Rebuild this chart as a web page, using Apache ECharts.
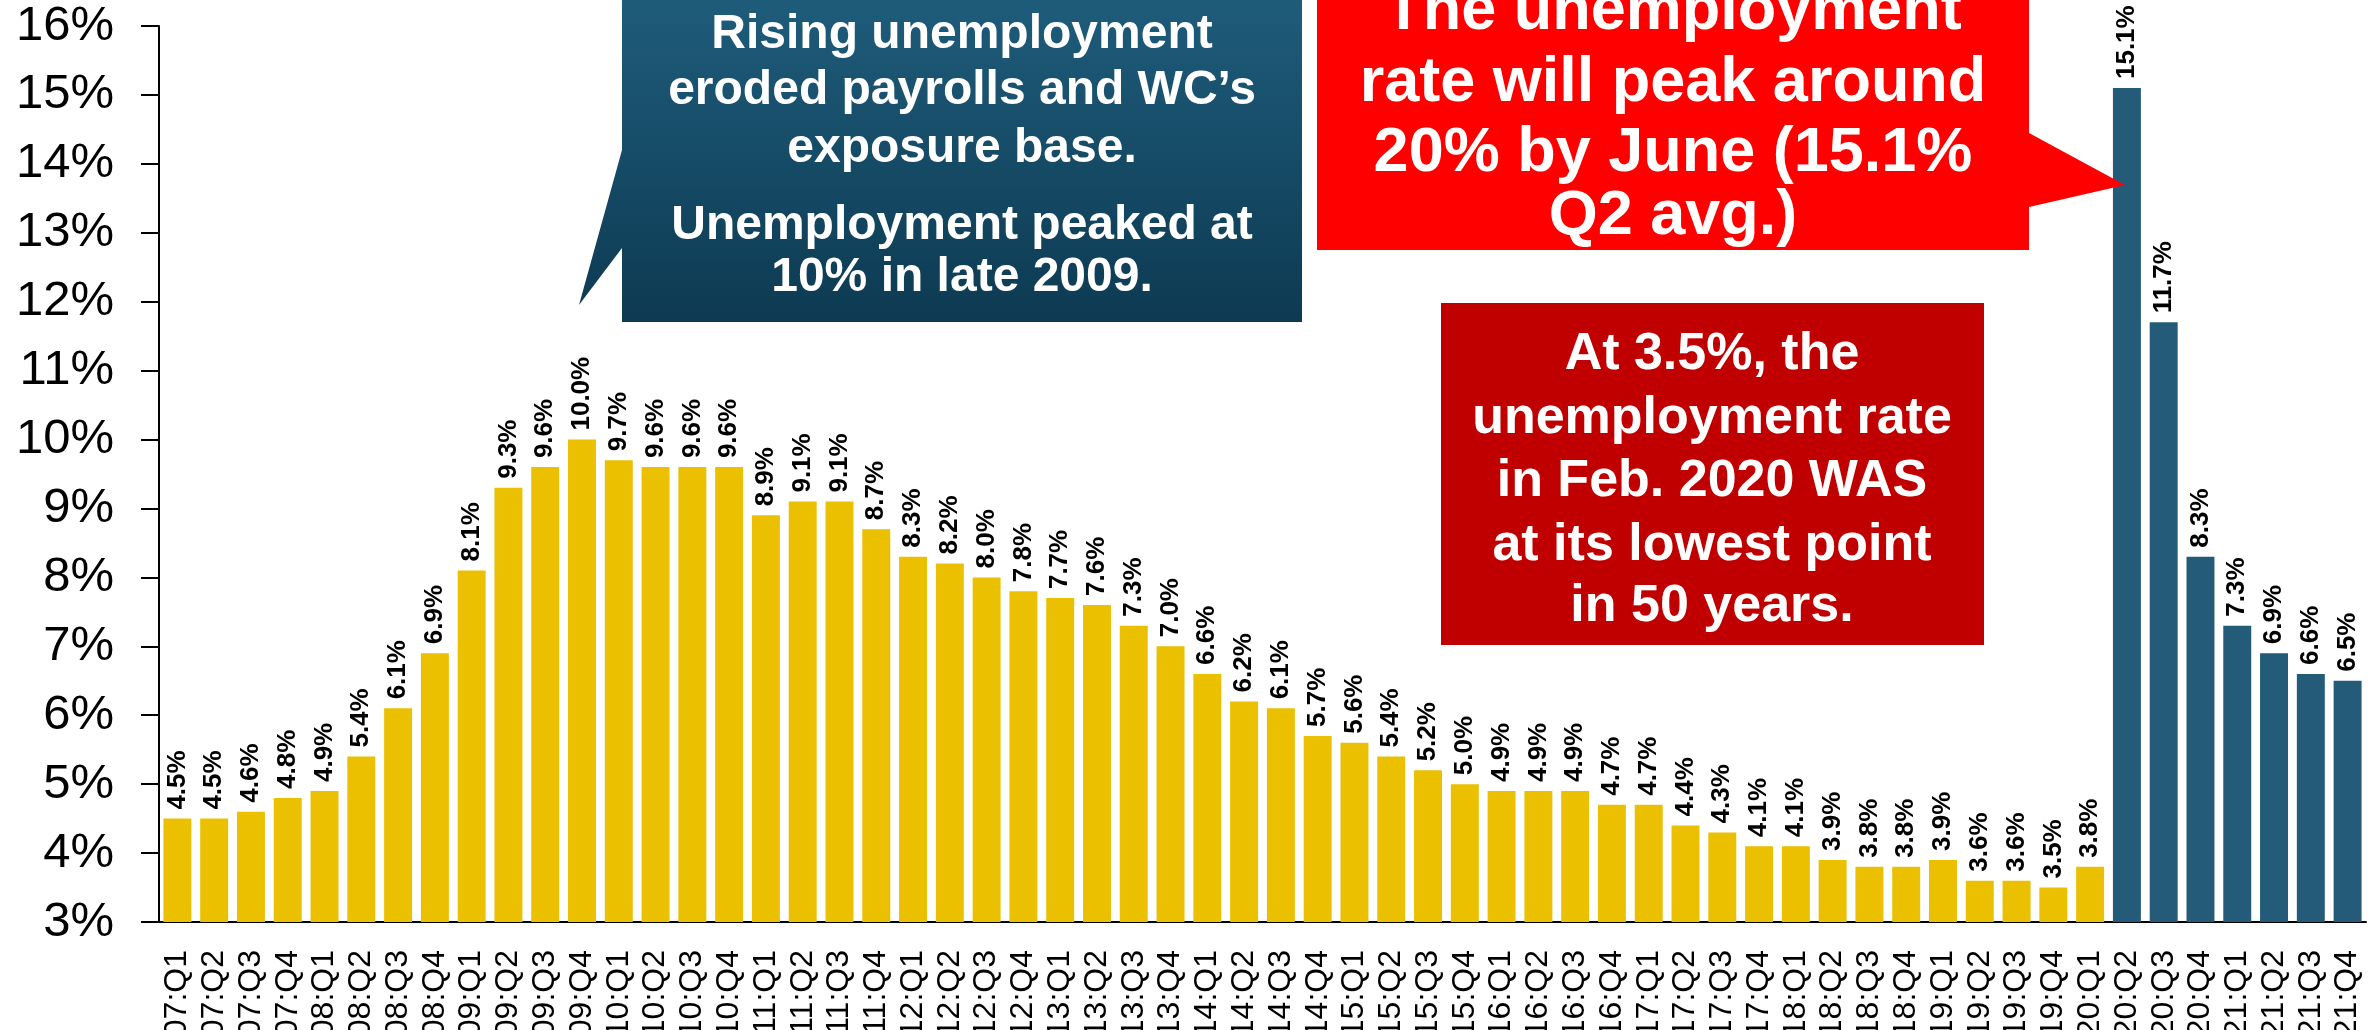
<!DOCTYPE html>
<html><head><meta charset="utf-8">
<script src="https://cdn.jsdelivr.net/npm/echarts@6/dist/echarts.min.js"></script>
<style>html,body{margin:0;padding:0;background:#fff}#c{width:2379px;height:1030px}</style>
</head><body><div id="c"></div><script>
const categories = ['07:Q1','07:Q2','07:Q3','07:Q4','08:Q1','08:Q2','08:Q3','08:Q4','09:Q1','09:Q2','09:Q3','09:Q4',
 '10:Q1','10:Q2','10:Q3','10:Q4','11:Q1','11:Q2','11:Q3','11:Q4','12:Q1','12:Q2','12:Q3','12:Q4',
 '13:Q1','13:Q2','13:Q3','13:Q4','14:Q1','14:Q2','14:Q3','14:Q4','15:Q1','15:Q2','15:Q3','15:Q4',
 '16:Q1','16:Q2','16:Q3','16:Q4','17:Q1','17:Q2','17:Q3','17:Q4','18:Q1','18:Q2','18:Q3','18:Q4',
 '19:Q1','19:Q2','19:Q3','19:Q4','20:Q1','20:Q2','20:Q3','20:Q4','21:Q1','21:Q2','21:Q3','21:Q4'];
const rates = [4.5,4.5,4.6,4.8, 4.9,5.4,6.1,6.9, 8.1,9.3,9.6,10.0,
 9.7,9.6,9.6,9.6, 8.9,9.1,9.1,8.7, 8.3,8.2,8.0,7.8,
 7.7,7.6,7.3,7.0, 6.6,6.2,6.1,5.7, 5.6,5.4,5.2,5.0,
 4.9,4.9,4.9,4.7, 4.7,4.4,4.3,4.1, 4.1,3.9,3.8,3.8,
 3.9,3.6,3.6,3.5, 3.8,15.1,11.7,8.3, 7.3,6.9,6.6,6.5];
const forecastStart = '20:Q2';
const yMin = 3, yMax = 16, yStep = 1;

const histColor = '#EBC000', fcColor = '#235B79';
const fIdx = categories.indexOf(forecastStart);
const barData = rates.map((v, i) => ({ value: v, itemStyle: { color: i >= fIdx ? fcColor : histColor } }));

const sans = '"Liberation Sans", Arial, sans-serif';
function line(text, x, y, size) {
  return { type: 'text', x: x, y: y, z: 100,
    style: { text: text, fill: '#fff', fontSize: size, fontWeight: 'bold', fontFamily: sans,
      align: 'center', verticalAlign: 'middle' } };
}

const chart = echarts.init(document.getElementById('c'), null, { renderer: 'canvas' });
chart.setOption({
  animation: false,
  backgroundColor: '#fff',
  grid: { left: 159, right: 13, top: 26, bottom: 108, containLabel: false, outerBoundsMode: 'none' },
  xAxis: {
    type: 'category', data: categories,
    axisLine: { lineStyle: { color: '#000', width: 2 } },
    axisTick: { length: 10, lineStyle: { color: '#000', width: 2 } },
    axisLabel: { interval: 0, rotate: 90, color: '#000', fontSize: 32, fontFamily: sans, margin: 28 }
  },
  yAxis: {
    type: 'value', min: yMin, max: yMax, interval: yStep,
    splitLine: { show: false },
    axisLine: { show: true, lineStyle: { color: '#000', width: 2 } },
    axisTick: { show: true, length: 18, lineStyle: { color: '#000', width: 2 } },
    axisLabel: { formatter: '{value}%', color: '#000', fontSize: 49, fontFamily: sans, margin: 45 }
  },
  series: [{
    type: 'bar', data: barData, barCategoryGap: '24%',
    label: { show: true, position: 'top', rotate: 90, align: 'left', verticalAlign: 'middle', distance: 9,
      formatter: p => p.value.toFixed(1) + '%', color: '#000', fontSize: 26, fontWeight: 'bold', fontFamily: sans }
  }],
  graphic: [
    { type: 'polygon', z: 90,
      shape: { points: [[622,-10],[1302,-10],[1302,322],[622,322],[622,248],[579,305],[622,150]] },
      style: { fill: new echarts.graphic.LinearGradient(0,0,0,1,[{offset:0,color:'#1F5D7C'},{offset:1,color:'#0D3A52'}]) } },
    line('Rising unemployment', 962, 35, 48),
    line('eroded payrolls and WC\u2019s', 962, 91, 48),
    line('exposure base.', 962, 149, 48),
    line('Unemployment peaked at', 962, 226, 48),
    line('10% in late 2009.', 962, 278, 48),
    { type: 'polygon', z: 90,
      shape: { points: [[1317,-10],[2029,-10],[2029,133],[2125,185],[2029,207],[2029,250],[1317,250]] },
      style: { fill: '#FF0000' } },
    line('The unemployment', 1673, 12, 63),
    line('rate will peak around', 1673, 84, 63),
    line('20% by June (15.1%', 1673, 154, 63),
    line('Q2 avg.)', 1673, 217, 63),
    { type: 'rect', z: 90, shape: { x: 1441, y: 303, width: 543, height: 342 }, style: { fill: '#C00000' } },
    line('At 3.5%, the', 1712, 355, 52),
    line('unemployment rate', 1712, 419, 52),
    line('in Feb. 2020 WAS', 1712, 482, 52),
    line('at its lowest point', 1712, 546, 52),
    line('in 50 years.', 1712, 607, 52)
  ]
});
</script></body></html>
